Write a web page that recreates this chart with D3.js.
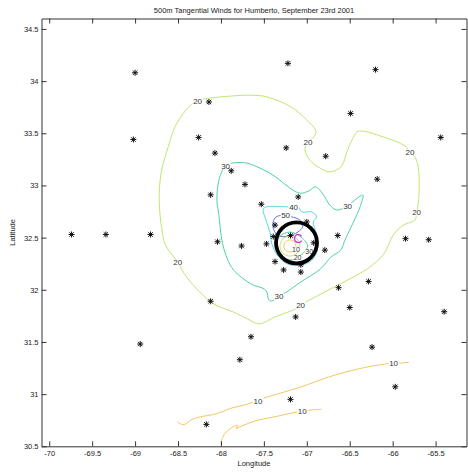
<!DOCTYPE html>
<html><head><meta charset="utf-8">
<script src="https://cdn.jsdelivr.net/npm/d3@7"></script>
<style>html,body{margin:0;padding:0;background:#fff;} svg{display:block;font-family:"Liberation Sans",Arial,sans-serif;}</style>
</head><body><svg id="c" width="468" height="474"></svg>
<script>
// ---------- data ----------
const titleText = "500m Tangential Winds for Humberto, September 23rd 2001";
const xLabel = "Longitude";
const yLabel = "Latitude";
const xLimits = [-70.09, -65.14];
const yLimits = [30.5, 34.6];
const xTicks = [-70, -69.5, -69, -68.5, -68, -67.5, -67, -66.5, -66, -65.5];
const yTicks = [30.5, 31, 31.5, 32, 32.5, 33, 33.5, 34, 34.5];

const stations = [
  [-69.00,34.08],[-68.14,33.80],[-69.02,33.44],[-68.26,33.46],[-68.07,33.31],[-67.88,33.14],
  [-68.12,32.91],[-69.74,32.53],[-69.34,32.53],[-68.82,32.53],[-67.22,34.17],[-66.20,34.11],
  [-66.49,33.69],[-65.44,33.46],[-67.24,33.36],[-66.78,33.28],[-66.18,33.06],[-67.72,33.01],
  [-67.10,32.89],[-67.53,32.82],[-67.37,32.62],[-67.00,32.65],[-66.64,32.52],[-68.04,32.46],
  [-67.76,32.42],[-67.47,32.44],[-67.39,32.51],[-67.19,32.52],[-66.92,32.45],[-66.79,32.38],
  [-67.37,32.27],[-67.27,32.19],[-67.07,32.24],[-67.07,32.17],[-65.85,32.49],[-65.58,32.48],
  [-66.28,32.08],[-66.63,32.02],[-66.50,31.83],[-65.40,31.79],[-67.13,31.74],[-68.12,31.89],
  [-67.65,31.55],[-66.24,31.45],[-67.78,31.33],[-68.94,31.48],[-65.97,31.07],[-67.19,30.95],
  [-68.17,30.71]
];

const stormCenter = [-67.12, 32.45];
const centerMark = "C";

// contour lines [lon, lat]
const contour20 = [[-68.210,33.827],[-67.861,33.858],[-67.663,33.865],[-67.465,33.849],[-67.185,33.753],[-66.999,33.626],[-66.894,33.520],[-66.917,33.466],[-66.987,33.415],[-67.022,33.348],[-66.964,33.242],[-66.839,33.163],[-66.723,33.130],[-66.595,33.185],[-66.533,33.322],[-66.475,33.434],[-66.416,33.511],[-66.347,33.520],[-66.114,33.466],[-65.857,33.379],[-65.799,33.322],[-65.741,33.274],[-65.702,33.178],[-65.691,32.987],[-65.702,32.828],[-65.721,32.742],[-65.741,32.668],[-65.877,32.620],[-65.994,32.524],[-66.102,32.345],[-66.296,32.201],[-66.684,32.026],[-66.975,31.899],[-67.072,31.854],[-67.130,31.818],[-67.371,31.739],[-67.558,31.674],[-67.709,31.729],[-67.857,31.787],[-68.090,31.866],[-68.245,31.978],[-68.400,32.122],[-68.504,32.265],[-68.594,32.361],[-68.652,32.441],[-68.687,32.572],[-68.711,32.732],[-68.719,32.924],[-68.691,33.147],[-68.614,33.370],[-68.536,33.561],[-68.439,33.690],[-68.341,33.779],[-68.272,33.810]];
const contour30 = [[-67.946,33.188],[-67.872,33.214],[-67.697,33.214],[-67.546,33.166],[-67.430,33.118],[-67.313,33.051],[-67.197,32.974],[-67.080,32.926],[-66.975,32.948],[-66.897,32.987],[-66.812,32.917],[-66.731,32.811],[-66.649,32.764],[-66.525,32.805],[-66.428,32.869],[-66.347,32.907],[-66.381,32.792],[-66.463,32.639],[-66.556,32.476],[-66.606,32.380],[-66.719,32.313],[-66.839,32.201],[-67.072,32.074],[-67.267,31.962],[-67.325,31.937],[-67.406,31.892],[-67.441,31.901],[-67.476,31.994],[-67.654,32.058],[-67.849,32.186],[-67.930,32.304],[-67.989,32.476],[-68.024,32.716],[-68.047,32.859],[-68.029,33.032],[-67.992,33.128]];
const contour40 = [[-67.235,32.795],[-67.154,32.792],[-67.100,32.795],[-67.060,32.747],[-66.944,32.747],[-66.886,32.699],[-66.925,32.649],[-66.894,32.553],[-66.871,32.428],[-66.917,32.304],[-67.057,32.237],[-67.220,32.246],[-67.336,32.323],[-67.406,32.438],[-67.430,32.553],[-67.476,32.668],[-67.508,32.773],[-67.468,32.795]];
const contour50 = [[-67.247,32.713],[-67.177,32.699],[-67.080,32.668],[-67.045,32.610],[-67.104,32.553],[-67.220,32.515],[-67.325,32.515],[-67.383,32.572],[-67.391,32.649],[-67.360,32.697],[-67.313,32.711]];
const eye30 = [[-67.197,32.553],[-67.082,32.514],[-66.990,32.419],[-67.082,32.324],[-67.197,32.285],[-67.312,32.324],[-67.360,32.419],[-67.312,32.514]];
const eye20 = [[-67.197,32.515],[-67.115,32.487],[-67.081,32.419],[-67.115,32.351],[-67.197,32.323],[-67.279,32.351],[-67.313,32.419],[-67.279,32.487]];
const eye10 = [[-67.197,32.478],[-67.147,32.460],[-67.127,32.419],[-67.147,32.378],[-67.197,32.362],[-67.247,32.378],[-67.267,32.419],[-67.247,32.460]];
const contour10a = [[-68.504,30.740],[-68.498,30.728],[-68.458,30.711],[-68.420,30.711],[-68.341,30.755],[-68.245,30.781],[-68.050,30.812],[-67.895,30.862],[-67.701,30.902],[-67.569,30.937],[-67.465,30.972],[-67.313,31.008],[-67.072,31.068],[-66.684,31.180],[-66.296,31.260],[-66.140,31.282],[-65.989,31.298],[-65.907,31.298],[-65.811,31.305]];
const contour10b = [[-68.004,30.527],[-67.977,30.589],[-67.954,30.625],[-67.919,30.651],[-67.857,30.688],[-67.802,30.699],[-67.826,30.671],[-67.756,30.695],[-67.585,30.747],[-67.383,30.781],[-67.150,30.822],[-67.053,30.832],[-66.975,30.845],[-66.832,30.855]];

const contourLabels = [
  [-68.272,33.810,"20"],[-66.987,33.412,"20"],[-65.799,33.322,"20"],[-65.721,32.742,"20"],
  [-67.072,31.854,"20"],[-68.504,32.265,"20"],
  [-67.946,33.188,"30"],[-66.525,32.805,"30"],[-67.325,31.937,"30"],
  [-67.154,32.792,"40"],[-67.247,32.713,"50"],
  [-65.989,31.298,"10"],[-67.569,30.937,"10"],[-67.053,30.832,"10"]
];
const eyeLabels = [
  [-67.127,32.385,"10"],[-67.107,32.309,"20"],[-66.972,32.371,"30"]
];

// ---------- drawing ----------
const L = 41.5, R = 466.5, T = 18.5, B = 446.3;
const svg = d3.select("#c");
const x = d3.scaleLinear().domain(xLimits).range([L, R]);
const y = d3.scaleLinear().domain(yLimits).range([B, T]);

const colors = {10:"#f2c860", 20:"#c0e670", 30:"#4ed4a0", 40:"#58d8e4", 50:"#6a72d0"};
const lines = [
  {pts: contour20, lvl: 20, closed: true},
  {pts: contour30, lvl: 30, closed: true},
  {pts: contour40, lvl: 40, closed: true},
  {pts: contour50, lvl: 50, closed: true},
  {pts: eye30, lvl: 30, closed: true},
  {pts: eye20, lvl: 20, closed: true},
  {pts: eye10, lvl: 10, closed: true},
  {pts: contour10a, lvl: 10, closed: false},
  {pts: contour10b, lvl: 10, closed: false}
];
const gC = svg.append("g");
lines.forEach(l => {
  const gen = d3.line().x(d => x(d[0])).y(d => y(d[1]))
    .curve(l.closed ? d3.curveCatmullRomClosed.alpha(0.5) : d3.curveCatmullRom.alpha(0.5));
  gC.append("path").attr("d", gen(l.pts)).attr("fill", "none")
    .attr("stroke", colors[l.lvl]).attr("stroke-width", 1);
});

// contour labels
function drawLabels(list, size) {
  const gL = svg.append("g").attr("font-size", size).attr("fill", "#333");
  list.forEach(d => {
    const g = gL.append("g");
    const t = g.append("text").attr("x", x(d[0])).attr("y", y(d[1]))
      .attr("text-anchor", "middle").attr("dy", "0.35em").text(d[2]);
    const bb = t.node().getBBox();
    g.insert("rect", "text").attr("x", bb.x - 0.5).attr("y", bb.y + 1.5)
      .attr("width", bb.width + 1).attr("height", Math.max(0, bb.height - 3)).attr("fill", "#fff");
  });
}
drawLabels(contourLabels, "8px");

// station markers (asterisks)
const star = "M-3,0H3M0,-3V3M-2.2,-2.2L2.2,2.2M-2.2,2.2L2.2,-2.2";
svg.append("g").selectAll("path").data(stations).join("path")
  .attr("transform", d => `translate(${x(d[0])},${y(d[1])})`)
  .attr("d", star).attr("stroke", "#111").attr("stroke-width", 1).attr("fill", "none");

drawLabels(eyeLabels, "7px");

// storm circle and center mark
svg.append("circle").attr("cx", x(stormCenter[0])).attr("cy", y(stormCenter[1]))
  .attr("r", 20.5).attr("fill", "none").attr("stroke", "#000").attr("stroke-width", 3.8);
svg.append("text").attr("x", x(stormCenter[0]) + 1.5).attr("y", y(stormCenter[1]) - 5)
  .attr("text-anchor", "middle").attr("dy", "0.36em").attr("font-size", "13px")
  .attr("fill", "#e020e0").text(centerMark);

// axes
const axCol = "#333";
const fmt = d => String(d);
const gx = svg.append("g").attr("transform", `translate(0,${B})`)
  .call(d3.axisBottom(x).tickValues(xTicks).tickSizeInner(-5).tickSizeOuter(0).tickPadding(4.5).tickFormat(fmt));
const gy = svg.append("g").attr("transform", `translate(${L},0)`)
  .call(d3.axisLeft(y).tickValues(yTicks).tickSizeInner(-5).tickSizeOuter(0).tickPadding(3).tickFormat(fmt));
const gt = svg.append("g").attr("transform", `translate(0,${T})`)
  .call(d3.axisTop(x).tickValues(xTicks).tickSizeInner(-5).tickSizeOuter(0).tickFormat(""));
const gr = svg.append("g").attr("transform", `translate(${R},0)`)
  .call(d3.axisRight(y).tickValues(yTicks).tickSizeInner(-5).tickSizeOuter(0).tickFormat(""));
[gx, gy, gt, gr].forEach(g => {
  g.attr("font-family", null).attr("font-size", "7.5px");
  g.selectAll("path,line").attr("stroke", axCol);
  g.selectAll("text").attr("fill", "#222");
});

// titles
svg.append("text").attr("x", (L + R) / 2).attr("y", 12.5).attr("text-anchor", "middle")
  .attr("font-size", "7.5px").attr("fill", "#222").text(titleText);
svg.append("text").attr("x", (L + R) / 2).attr("y", 466).attr("text-anchor", "middle")
  .attr("font-size", "7.5px").attr("fill", "#222").text(xLabel);
svg.append("text").attr("transform", `translate(15,${(T + B) / 2}) rotate(-90)`)
  .attr("text-anchor", "middle").attr("font-size", "7.5px").attr("fill", "#222").text(yLabel);
</script></body></html>
